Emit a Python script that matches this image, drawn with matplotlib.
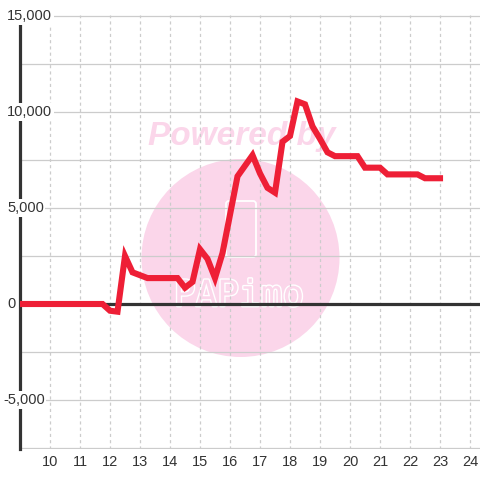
import numpy as np
import matplotlib
matplotlib.use("Agg")
import matplotlib.pyplot as plt
import matplotlib.transforms as mtransforms
import matplotlib.patheffects as pe
from matplotlib.patches import Circle, FancyBboxPatch

# series
hours = [9, 11.75, 12.0, 12.25, 12.5, 12.75, 13.25, 14.25, 14.5, 14.75,
         15.0, 15.25, 15.5, 15.75, 16.25, 16.75, 17.0, 17.25, 17.5, 17.75,
         18.0, 18.25, 18.5, 18.75, 19.0, 19.25, 19.5, 20.25, 20.5, 21.0,
         21.25, 22.25, 22.5, 23.0]
values = [0, 0, -350, -400, 2500, 1650, 1350, 1350, 850, 1150,
          2850, 2350, 1350, 2650, 6650, 7750, 6800, 6050, 5800, 8450,
          8750, 10550, 10400, 9250, 8600, 7900, 7700, 7700, 7100, 7100,
          6750, 6750, 6550, 6550]

x_ticks = list(range(10, 25))
y_grid = [-7500, -5000, -2500, 0, 2500, 5000, 7500, 10000, 12500, 15000]
y_labels = {15000: "15,000", 10000: "10,000", 5000: "5,000", 0: "0", -5000: "-5,000"}

plt.rcParams['font.family'] = ['Liberation Sans', 'DejaVu Sans']
TXT = '#333333'

fig = plt.figure(figsize=(4.8, 4.8), dpi=100)
fig.patch.set_facecolor('white')
px = 5000 / 96.0
ax = fig.add_axes([20 / 480, (480 - 449) / 480, 460 / 480, 434 / 480])
ax.set_xlim(9, 9 + 460 / 30.0)
ax.set_ylim(-7500 - px, 15000 + px)

# watermark
fig_tr = fig.transFigure
ax.add_patch(Circle((240.5 / 480, 1 - 258 / 480), 99 / 480, transform=fig_tr,
                    facecolor='#fbd6ea', edgecolor='none', zorder=0, clip_on=False))
ax.add_patch(FancyBboxPatch((226 / 480, 1 - 257 / 480), 30 / 480, 56 / 480,
                            boxstyle='round,pad=0,rounding_size=0.006', transform=fig_tr,
                            facecolor='none', edgecolor='white', lw=1.3, zorder=0.5, clip_on=False))
ax.text(242 / 480, 1 - 145 / 480, "Powered by", transform=fig_tr, ha='center', va='baseline',
        fontsize=24, fontweight='bold', style='italic', color='#fbd6ea', zorder=0.5)
ax.text(239 / 480, 1 - 306 / 480, "PAPimo", transform=fig_tr, ha='center', va='baseline',
        fontsize=26, family='DejaVu Sans Mono', color='#fbd6ea', zorder=0.5,
        path_effects=[pe.withStroke(linewidth=2, foreground='white')])

# grid
for v in y_grid:
    ax.axhline(v, color='#cccccc', lw=0.9, zorder=1)
for t in x_ticks:
    ax.axvline(t, color='#cccccc', lw=0.9, ls=(0, (2.5, 2.5)), zorder=1)

ax.axhline(0, color=TXT, lw=2.3, zorder=2)
ax.plot(hours, values, color='#ee1f36', lw=4.4, solid_joinstyle='miter', zorder=3)

for s in ['top', 'right', 'bottom']:
    ax.spines[s].set_visible(False)
ax.spines['left'].set_color(TXT)
ax.spines['left'].set_linewidth(2.3)
ax.spines['left'].set_zorder(2.5)

ax.set_xticks(x_ticks)
ax.set_yticks([])
ax.tick_params(axis='x', length=0, pad=4, labelsize=10.5, labelcolor=TXT)

lab_tr = mtransforms.blended_transform_factory(fig.transFigure, ax.transData)
for v, s in y_labels.items():
    x0 = 3 if v < 0 else 7
    ax.text(x0 / 480, v, s, transform=lab_tr, ha='left', va='center', fontsize=10.5,
            color=TXT, zorder=5, clip_on=False,
            bbox=dict(facecolor='white', edgecolor='none', pad=1.2))

fig.savefig('out.png', dpi=100)
